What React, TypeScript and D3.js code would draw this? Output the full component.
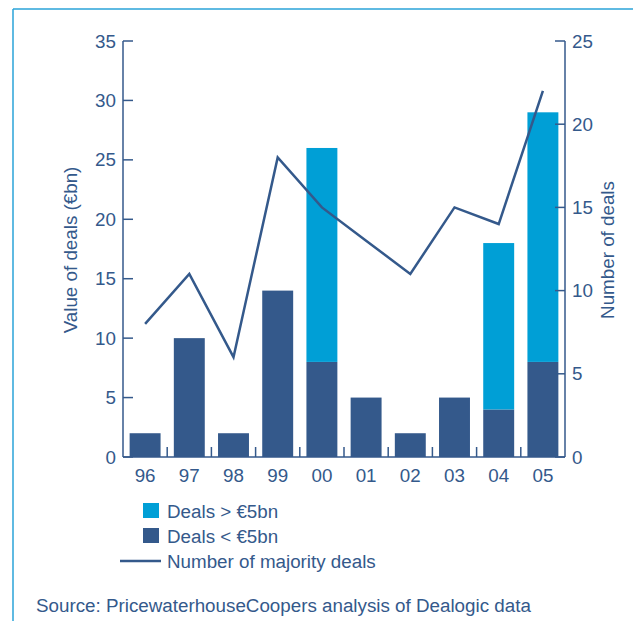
import React from "react";
import * as d3 from "d3";

const years = ["96", "97", "98", "99", "00", "01", "02", "03", "04", "05"];
const dealsSmall = [2, 10, 2, 14, 8, 5, 2, 5, 4, 8];
const dealsLarge = [0, 0, 0, 0, 18, 0, 0, 0, 14, 21];
const dealCount = [8, 11, 6, 18, 15, 13, 11, 15, 14, 22];
const leftTicks = [0, 5, 10, 15, 20, 25, 30, 35];
const rightTicks = [0, 5, 10, 15, 20, 25];

const DARK = "#34598b";
const LIGHT = "#009fd6";
const FRAME = "#2aa3d8";
const FONT = "'Liberation Sans', Arial, Helvetica, sans-serif";
const FS = 18.8;

export default function App() {
  const W = 633, H = 621;
  const x0 = 123, x1 = 565, yTop = 41, yBot = 457;
  const x = d3.scaleBand<string>().domain(years).range([x0, x1]).paddingInner(0.3).paddingOuter(0.15);
  const yL = d3.scaleLinear().domain([0, 35]).range([yBot, yTop]);
  const yR = d3.scaleLinear().domain([0, 25]).range([yBot, yTop]);
  const step = (x1 - x0) / years.length;
  const line = d3.line<number>()
    .x((_, i) => (x(years[i]) as number) + x.bandwidth() / 2)
    .y((d) => yR(d));

  return (
    <svg width={W} height={H} style={{ position: "absolute", left: 0, top: 0 }} fontFamily={FONT}>
      <line x1={13} y1={9} x2={W} y2={9} stroke={FRAME} strokeWidth={1.5} />
      <line x1={13} y1={9} x2={13} y2={H} stroke={FRAME} strokeWidth={1.5} />

      {years.map((yr, i) => (
        <g key={yr}>
          <rect x={x(yr)} y={yL(dealsSmall[i])} width={x.bandwidth()} height={yBot - yL(dealsSmall[i])} fill={DARK} />
          {dealsLarge[i] > 0 && (
            <rect x={x(yr)} y={yL(dealsSmall[i] + dealsLarge[i])} width={x.bandwidth()}
              height={yL(dealsSmall[i]) - yL(dealsSmall[i] + dealsLarge[i])} fill={LIGHT} />
          )}
        </g>
      ))}

      <path d={line(dealCount) || ""} fill="none" stroke={DARK} strokeWidth={2.5} strokeLinejoin="miter" />

      {/* left axis */}
      <line x1={x0} y1={yTop} x2={x0} y2={yBot} stroke={DARK} strokeWidth={1.5} />
      {leftTicks.map((t) => (
        <g key={"l" + t}>
          <line x1={x0} x2={x0 + 10} y1={yL(t)} y2={yL(t)} stroke={DARK} strokeWidth={1.5} />
          <text x={x0 - 7} y={yL(t)} dy="0.35em" textAnchor="end" fontSize={FS} fill={DARK}>{t}</text>
        </g>
      ))}
      {/* right axis */}
      <line x1={x1} y1={yTop} x2={x1} y2={yBot} stroke={DARK} strokeWidth={1.5} />
      {rightTicks.map((t) => (
        <g key={"r" + t}>
          <line x1={x1 - 10} x2={x1} y1={yR(t)} y2={yR(t)} stroke={DARK} strokeWidth={1.5} />
          <text x={x1 + 7} y={yR(t)} dy="0.35em" textAnchor="start" fontSize={FS} fill={DARK}>{t}</text>
        </g>
      ))}
      {/* bottom axis */}
      <line x1={x0} y1={yBot} x2={x1} y2={yBot} stroke={DARK} strokeWidth={1.5} />
      {years.slice(1).map((yr, i) => (
        <line key={"bt" + yr} x1={x0 + step * (i + 1)} x2={x0 + step * (i + 1)} y1={yBot} y2={yBot - 10} stroke={DARK} strokeWidth={1.5} />
      ))}
      {years.map((yr) => (
        <text key={"xl" + yr} x={(x(yr) as number) + x.bandwidth() / 2} y={475} dy="0.35em" textAnchor="middle" fontSize={FS} fill={DARK}>{yr}</text>
      ))}

      <text transform={`translate(70,250) rotate(-90)`} textAnchor="middle" dy="0.35em" fontSize={FS} fill={DARK}>Value of deals (€bn)</text>
      <text transform={`translate(607,250) rotate(-90)`} textAnchor="middle" dy="0.35em" fontSize={FS} fill={DARK}>Number of deals</text>

      {/* legend */}
      <rect x={143} y={503} width={16} height={15} fill={LIGHT} />
      <text x={167} y={511} dy="0.35em" fontSize={FS} fill={DARK}>Deals &gt; €5bn</text>
      <rect x={143} y={528} width={16} height={15} fill={DARK} />
      <text x={167} y={536} dy="0.35em" fontSize={FS} fill={DARK}>Deals &lt; €5bn</text>
      <line x1={120} x2={161} y1={561} y2={561} stroke={DARK} strokeWidth={2.5} />
      <text x={167} y={561} dy="0.35em" fontSize={FS} fill={DARK}>Number of majority deals</text>

      <text x={36} y={605} dy="0.35em" fontSize={FS} fill={DARK}>Source: PricewaterhouseCoopers analysis of Dealogic data</text>
    </svg>
  );
}
